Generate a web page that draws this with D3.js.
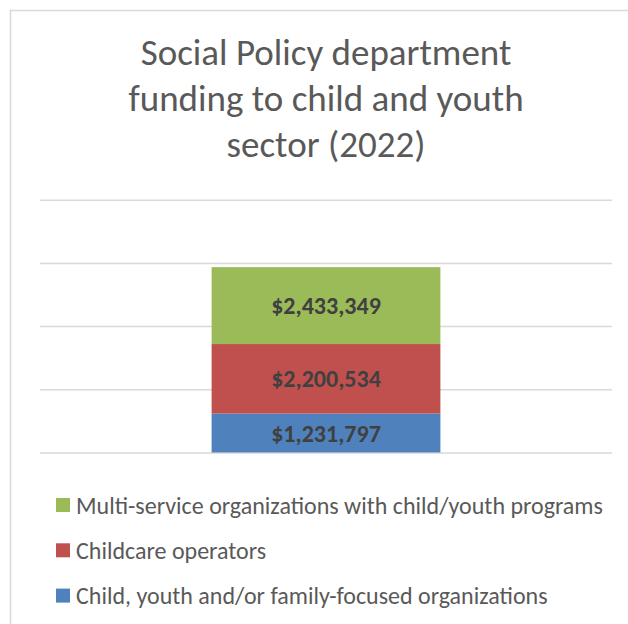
<!DOCTYPE html>
<html>
<head>
<meta charset="utf-8">
<script src="https://cdn.jsdelivr.net/npm/d3@7"></script>
<style>
  html, body { margin: 0; padding: 0; background: #fff; }
  svg { display: block; }
</style>
</head>
<body>
<svg id="chart" width="628" height="624"></svg>
<script>
// Single stacked bar: funding by organization type
const categories = ["2022"];
const seriesNames = [
  "Child, youth and/or family-focused organizations",
  "Childcare operators",
  "Multi-service organizations with child/youth programs"
];
const seriesValues = [1231797, 2200534, 2433349];
const seriesColors = ["#4F81BD", "#C0504D", "#9BBB59"];
const gridTicks = [0, 2000000, 4000000, 6000000, 8000000];
const titleLines = ["Social Policy department", "funding to child and youth", "sector (2022)"];

const W = 628, H = 624;
const font = "Carlito, Calibri, Lato, 'Open Sans', sans-serif";
const svg = d3.select("#chart");

// chart area frame (top and left edges visible)
svg.append("path")
  .attr("d", `M10.5,${H} V10.5 H${W}`)
  .attr("fill", "none")
  .attr("stroke", "#d9d9d9")
  .attr("stroke-width", 1.5);

const plot = { left: 40, right: 612, top: 199.7, bottom: 452.5 };

const y = d3.scaleLinear().domain([0, 8000000]).range([plot.bottom, plot.top]);
const x = d3.scaleBand().domain(categories).range([plot.left, plot.right])
  .paddingInner(0).paddingOuter(0.75);

// horizontal gridlines
const grid = svg.append("g")
  .attr("transform", `translate(${plot.left},0)`)
  .call(d3.axisLeft(y).tickValues(gridTicks)
    .tickSize(-(plot.right - plot.left)).tickFormat(""));
grid.select(".domain").remove();
grid.selectAll(".tick line").attr("stroke", "#d9d9d9").attr("stroke-width", 1.5);

// title
svg.append("text")
  .attr("text-anchor", "middle")
  .attr("fill", "#595959")
  .style("font-family", font)
  .style("font-size", "37px")
  .selectAll("tspan")
  .data(titleLines)
  .join("tspan")
  .attr("x", 326)
  .attr("y", (d, i) => 65 + i * 46)
  .text(d => d);

// stacked segments
const row = { cat: categories[0] };
seriesNames.forEach((n, i) => row[n] = seriesValues[i]);
const stacked = d3.stack().keys(seriesNames)([row]);

const layers = svg.append("g").selectAll("g")
  .data(stacked)
  .join("g")
  .attr("fill", (d, i) => seriesColors[i]);

layers.selectAll("rect")
  .data(d => d.map(s => ({ s, key: d.key })))
  .join("rect")
  .attr("x", d => x(d.s.data.cat))
  .attr("width", x.bandwidth())
  .attr("y", d => y(d.s[1]))
  .attr("height", d => y(d.s[0]) - y(d.s[1]));

// value labels
const fmt = d3.format("$,");
layers.selectAll("text")
  .data(d => d.map(s => ({ s, key: d.key })))
  .join("text")
  .attr("x", d => x(d.s.data.cat) + x.bandwidth() / 2)
  .attr("y", d => (y(d.s[0]) + y(d.s[1])) / 2)
  .attr("dy", "0.36em")
  .attr("text-anchor", "middle")
  .attr("fill", "#404040")
  .style("font-family", font)
  .style("font-size", "24px")
  .style("font-weight", "bold")
  .text(d => fmt(d.s[1] - d.s[0]));

// legend, top entry is the top segment
const legendOrder = seriesNames.map((n, i) => i).reverse();
const legend = svg.append("g").selectAll("g")
  .data(legendOrder)
  .join("g")
  .attr("transform", (d, i) => `translate(56,${505 + i * 45.3})`);

legend.append("rect")
  .attr("x", 0).attr("y", -7)
  .attr("width", 14).attr("height", 14)
  .attr("fill", d => seriesColors[d]);

legend.append("text")
  .attr("x", 20)
  .attr("dy", "0.36em")
  .attr("fill", "#595959")
  .style("font-family", font)
  .style("font-size", "24px")
  .text(d => seriesNames[d]);
</script>
</body>
</html>
